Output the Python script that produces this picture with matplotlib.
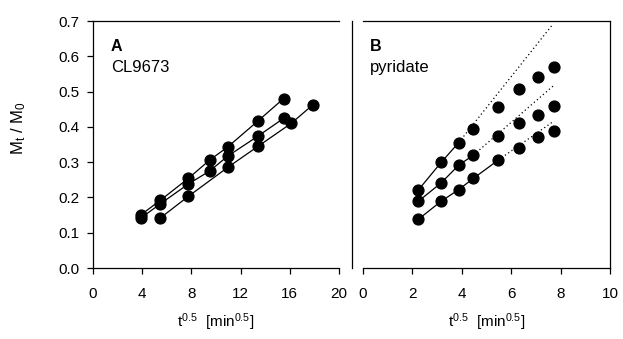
import matplotlib
matplotlib.use("Agg")
import matplotlib.pyplot as plt
from matplotlib.lines import Line2D
import numpy as np

plt.rcParams['font.family'] = ['Liberation Sans', 'DejaVu Sans']
plt.rcParams['font.size'] = 11
plt.rcParams['mathtext.fontset'] = 'custom'
plt.rcParams['mathtext.rm'] = 'Liberation Sans'
plt.rcParams['mathtext.it'] = 'Liberation Sans'

# --- panel A: CL9673 ---
a_x1 = [3.87, 5.48, 7.75, 9.49, 10.95, 13.42, 15.49]
a_y1 = [0.150, 0.192, 0.254, 0.306, 0.343, 0.417, 0.480]
a_x2 = [3.87, 5.48, 7.75, 9.49, 10.95, 13.42, 15.49]
a_y2 = [0.141, 0.182, 0.238, 0.275, 0.317, 0.374, 0.424]
a_x3 = [5.48, 7.75, 10.95, 13.42, 16.12, 17.89]
a_y3 = [0.142, 0.203, 0.285, 0.345, 0.410, 0.463]

# --- panel B: pyridate ---
b_x = [2.24, 3.16, 3.87, 4.47, 5.48, 6.32, 7.07, 7.75]
b_top = [0.221, 0.299, 0.355, 0.395, 0.455, 0.506, 0.540, 0.570]
b_mid = [0.189, 0.241, 0.291, 0.320, 0.375, 0.410, 0.435, 0.459]
b_low = [0.138, 0.189, 0.222, 0.254, 0.306, 0.340, 0.370, 0.388]
# number of leading points joined by solid lines
b_nsolid = [3, 4, 5]
# end points of the dotted extrapolations
b_fit_end_x = [7.70, 7.70, 7.70]
b_fit_end_y = [0.692, 0.516, 0.415]

fig = plt.figure(figsize=(6.23, 3.39), dpi=100)
axA = fig.add_axes([93/623, 1-268/339, 246/623, 247/339])
axB = fig.add_axes([363/623, 1-268/339, 247/623, 247/339])

mk = dict(marker='o', markersize=7.8, color='black', lw=0.9)

for xs, ys in [(a_x1, a_y1), (a_x2, a_y2), (a_x3, a_y3)]:
    axA.plot(xs, ys, **mk)

for ys, n, ex, ey in zip([b_top, b_mid, b_low], b_nsolid, b_fit_end_x, b_fit_end_y):
    axB.plot([b_x[n-1], ex], [ys[n-1], ey], color='black', lw=0.9,
             linestyle=(0, (1, 2.2)))
    axB.plot(b_x[:n], ys[:n], **mk)
    axB.plot(b_x[n:], ys[n:], linestyle='none', marker='o', markersize=7.8, color='black')

axA.set_xlim(0, 20)
axA.set_xticks([0, 4, 8, 12, 16, 20])
axB.set_xlim(0, 10)
axB.set_xticks([0, 2, 4, 6, 8, 10])
for ax in (axA, axB):
    ax.set_ylim(0, 0.7)
    ax.tick_params(direction='out', length=4.5, width=0.9, labelsize=11, pad=5)
    ax.tick_params(axis='x', pad=9)
    for s in ax.spines.values():
        s.set_linewidth(0.9)
    ax.set_xlabel(r'$\mathregular{t^{0.5}}$  [$\mathregular{min^{0.5}}$]', fontsize=11, labelpad=8)

axA.set_yticks(np.arange(0, 0.71, 0.1))
axA.set_yticklabels([f'{v:.1f}' for v in np.arange(0, 0.71, 0.1)])
axA.spines['right'].set_visible(False)
axB.spines['left'].set_visible(False)
axB.set_yticks([])

# divider between panels
fig.add_artist(Line2D([351.5/623, 351.5/623], [1-268/339, 1-21/339],
                      transform=fig.transFigure, color='black', lw=0.9))

axA.text(0.072, 0.895, 'A', transform=axA.transAxes, fontweight='bold',
         va='center', ha='left', fontsize=11.5)
axA.text(0.072, 0.81, 'CL9673', transform=axA.transAxes, va='center', ha='left',
         fontsize=12)
axB.text(0.028, 0.895, 'B', transform=axB.transAxes, fontweight='bold',
         va='center', ha='left', fontsize=11.5)
axB.text(0.026, 0.81, 'pyridate', transform=axB.transAxes, va='center', ha='left',
         fontsize=12)

fig.text(19/623, 1-128/339, r'$\mathregular{M_t}$ / $\mathregular{M_0}$',
         rotation=90, va='center', ha='center', fontsize=12)

fig.savefig('out.png', dpi=100)
